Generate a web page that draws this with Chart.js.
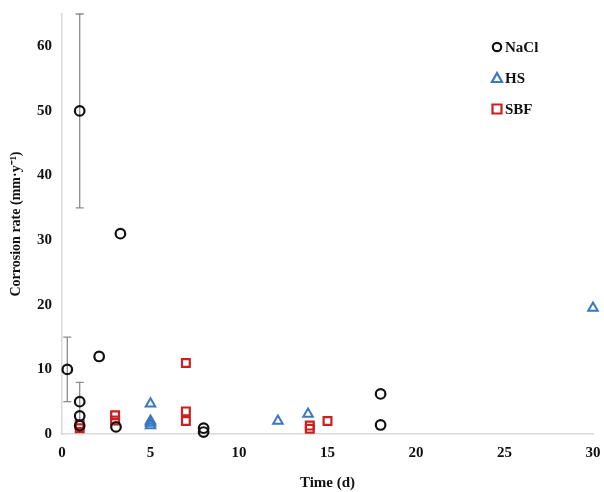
<!DOCTYPE html>
<html>
<head>
<meta charset="utf-8">
<script src="https://cdn.jsdelivr.net/npm/chart.js@4"></script>
<style>
  html, body { margin: 0; padding: 0; background: #fff; }
  #wrap { width: 604px; height: 492px; position: relative; }
</style>
</head>
<body>
<div id="wrap"><canvas id="c" width="604" height="492"></canvas></div>
<script>
// ---- Data ----
const seriesNames = ['NaCl', 'HS', 'SBF'];

const naclTime = [0.3, 1, 1, 1, 1, 2.1, 3.3, 3.05, 8, 8, 18, 18];
const naclRate = [10, 50, 5, 2.8, 1.3, 12, 31, 1.1, 0.9, 0.3, 6.2, 1.4];
const naclErr  = [5, 15, 3, 0, 0, 0, 0, 0, 0, 0, 0, 0];

const hsTime = [5, 5, 5, 5, 12.2, 13.9, 30];
const hsRate = [4.7, 2.0, 1.7, 1.3, 2.0, 3.1, 19.5];

const sbfTime = [1, 1, 3, 3, 7, 7, 7, 14, 14, 15];
const sbfRate = [1.5, 0.9, 2.9, 2.1, 11, 3.5, 2.0, 1.3, 0.8, 2.0];

const xTicks = [0, 5, 10, 15, 20, 25, 30];
const yTicks = [0, 10, 20, 30, 40, 50, 60];

const toPts = (xs, ys) => xs.map((x, i) => ({ x: x, y: ys[i] }));

const serif = "'Liberation Serif', 'Times New Roman', serif";

// Error bar plugin: draws through the chart's scales
const errorBars = {
  id: 'errorBars',
  beforeDatasetsDraw(chart) {
    const { ctx, scales: { x, y } } = chart;
    chart.data.datasets.forEach((ds) => {
      if (!ds.errors) return;
      ds.data.forEach((p, i) => {
        const e = ds.errors[i];
        if (!e) return;
        const px = x.getPixelForValue(p.x);
        const yTop = y.getPixelForValue(p.y + e);
        const yBot = y.getPixelForValue(Math.max(0, p.y - e));
        ctx.save();
        ctx.strokeStyle = '#8c8c8c';
        ctx.lineWidth = 1.3;
        ctx.beginPath();
        ctx.moveTo(px, yTop); ctx.lineTo(px, yBot);
        ctx.moveTo(px - 4, yTop); ctx.lineTo(px + 4, yTop);
        ctx.moveTo(px - 4, yBot); ctx.lineTo(px + 4, yBot);
        ctx.stroke();
        ctx.restore();
      });
    });
  }
};

// Legend plugin (vertical, inside plot top-right) using dataset styles
const insideLegend = {
  id: 'insideLegend',
  afterDraw(chart) {
    const { ctx } = chart;
    const x0 = 497, y0 = 47, dy = 31;
    chart.data.datasets.forEach((ds, i) => {
      const yy = y0 + i * dy;
      ctx.save();
      ctx.strokeStyle = ds.borderColor;
      ctx.lineWidth = 2.2;
      ctx.fillStyle = '#fff';
      ctx.beginPath();
      if (ds.pointStyle === 'circle') {
        ctx.arc(x0, yy, 4.2, 0, Math.PI * 2);
      } else if (ds.pointStyle === 'triangle') {
        ctx.moveTo(x0, yy - 5); ctx.lineTo(x0 + 5, yy + 4); ctx.lineTo(x0 - 5, yy + 4); ctx.closePath();
      } else {
        ctx.rect(x0 - 4.5, yy - 4.5, 9, 9);
      }
      ctx.fill(); ctx.stroke();
      ctx.fillStyle = '#111';
      ctx.font = "bold 15px " + serif;
      ctx.textBaseline = 'middle';
      ctx.textAlign = 'left';
      ctx.fillText(ds.label, x0 + 8, yy + 1);
      ctx.restore();
    });
  }
};

new Chart(document.getElementById('c'), {
  type: 'scatter',
  data: {
    datasets: [
      {
        label: seriesNames[0],
        data: toPts(naclTime, naclRate),
        errors: naclErr,
        pointStyle: 'circle',
        pointRadius: 4.8,
        pointBorderWidth: 2.2,
        borderColor: '#111111',
        backgroundColor: 'rgba(255,255,255,0)',
        clip: false
      },
      {
        label: seriesNames[1],
        data: toPts(hsTime, hsRate),
        pointStyle: 'triangle',
        pointRadius: 5.5,
        pointBorderWidth: 2,
        borderColor: '#3a78c0',
        backgroundColor: 'rgba(255,255,255,0)',
        clip: false
      },
      {
        label: seriesNames[2],
        data: toPts(sbfTime, sbfRate),
        pointStyle: 'rect',
        pointRadius: 5.5,
        pointBorderWidth: 2.2,
        borderColor: '#cc1f1f',
        backgroundColor: 'rgba(255,255,255,0)',
        clip: false
      }
    ]
  },
  options: {
    responsive: false,
    animation: false,
    devicePixelRatio: 1,
    layout: { padding: { top: 14, right: 11, left: 0, bottom: 0 } },
    plugins: {
      legend: { display: false },
      tooltip: { enabled: false }
    },
    scales: {
      x: {
        type: 'linear',
        min: 0, max: 30,
        afterBuildTicks(s) { s.ticks = xTicks.map(v => ({ value: v })); },
        afterFit(s) { s.height = 58; s.paddingRight = 0; s.paddingLeft = 0; },
        grid: { display: false, drawTicks: false },
        border: { display: true, color: '#d9d9d9', width: 1.5 },
        ticks: { color: '#111', padding: 10, font: { family: serif, size: 15, weight: 'bold' } },
        title: { display: true, text: 'Time (d)', color: '#111', padding: { top: 0, bottom: 0 },
                 font: { family: serif, size: 15, weight: 'bold' } }
      },
      y: {
        type: 'linear',
        min: 0, max: 65,
        afterBuildTicks(s) { s.ticks = yTicks.map(v => ({ value: v })); },
        afterFit(s) { s.width = 62; s.paddingTop = 0; s.paddingBottom = 0; },
        grid: { display: false, drawTicks: false },
        border: { display: true, color: '#d9d9d9', width: 1.5 },
        ticks: { color: '#111', padding: 10, font: { family: serif, size: 15, weight: 'bold' } },
        title: { display: true, text: 'Corrosion rate (mm·y⁻¹)', color: '#111', padding: { top: 8, bottom: 0 },
                 font: { family: serif, size: 14, weight: 'bold' } }
      }
    }
  },
  plugins: [errorBars, insideLegend]
});
</script>
</body>
</html>
